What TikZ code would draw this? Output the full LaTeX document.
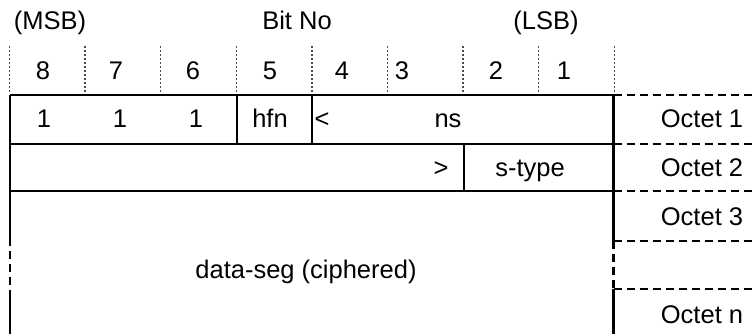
\documentclass[tikz,border=0pt]{standalone}
\usepackage{fontspec}
\setmainfont{Liberation Sans}
\begin{document}
\begin{tikzpicture}[x=1pt,y=-1pt,
  lbl/.style={anchor=base,inner sep=0pt,font=\fontsize{25.5}{30}\selectfont},
  solidline/.style={line width=2.4pt},
  dashline/.style={line width=2.4pt,dash pattern=on 8pt off 5pt},
  bitline/.style={line width=1.4pt,black!70,dash pattern=on 2pt off 2pt}]
\useasboundingbox (0,0) rectangle (754,334);
% header
\node[lbl] (msb) at (50,30) {(MSB)};
\node[lbl] (bitno) at (297,30) {Bit No};
\node[lbl] (lsb) at (546,30) {(LSB)};
% bit dotted separators
\foreach \i in {0,...,8}{
  \draw[bitline] ({9.5+75.6*\i},46) -- ({9.5+75.6*\i},93);
}
\foreach \x/\t in {43/8,116/7,193/6,270/5,342/4,402/3,496/2,564/1}{
  \node[lbl] (b\t) at (\x,80) {\t};
}
% main box coordinates
\coordinate (L0) at (10,95);
\coordinate (R0) at (613.5,95);
\coordinate (L1) at (10,144);
\coordinate (R1) at (613.5,144);
\coordinate (L2) at (10,191);
\coordinate (R2) at (613.5,191);
\coordinate (E0) at (754,95);
\coordinate (E1) at (754,144);
\coordinate (E2) at (754,191);
\coordinate (E3) at (754,241);
\coordinate (E4) at (754,289);
\coordinate (R3) at (613.5,241);
\coordinate (R4) at (613.5,289);
\coordinate (RB) at (613.5,334);
\coordinate (La) at (10,238);
\coordinate (Lb) at (10,290);
\coordinate (LB) at (10,334);
% solid lines
\draw[solidline] (L0) -- (R0);
\draw[solidline] (L1) -- (R1);
\draw[solidline] (L2) -- (R2);
\draw[solidline] (L0) -- (La);
\draw[solidline] (Lb) -- (LB);
\draw[solidline] (R0) -- (R3);
\draw[solidline] (R4) -- (RB);
\draw[dashline] (La) -- (Lb);
\draw[dashline] (R3) -- (R4);
% row dividers
\draw[solidline] (237,95) -- (237,144);
\draw[solidline] (312,95) -- (312,144);
\draw[solidline] (464,144) -- (464,191);
% octet dashed lines
\draw[dashline] (R0) -- (E0);
\draw[dashline] (R1) -- (E1);
\draw[dashline] (R2) -- (E2);
\draw[dashline] (R3) -- (E3);
\draw[dashline] (R4) -- (E4);
% row 1
\node[lbl] (o1a) at (44,128) {1};
\node[lbl] (o1b) at (120,128) {1};
\node[lbl] (o1c) at (196,128) {1};
\node[lbl] (hfn) at (270,128) {hfn};
\node[lbl] (lt) at (322,128) {<};
\node[lbl] (ns) at (448,128) {ns};
% row 2
\node[lbl] (gt) at (441,176.5) {>};
\node[lbl] (stype) at (530,176.5) {s-type};
% data
\node[lbl] (data) at (306,278) {data-seg (ciphered)};
% octets
\node[lbl] (oct1) at (702,128) {Octet 1};
\node[lbl] (oct2) at (702,176.5) {Octet 2};
\node[lbl] (oct3) at (702,225) {Octet 3};
\node[lbl] (octn) at (702,323) {Octet n};
\end{tikzpicture}
\end{document}
